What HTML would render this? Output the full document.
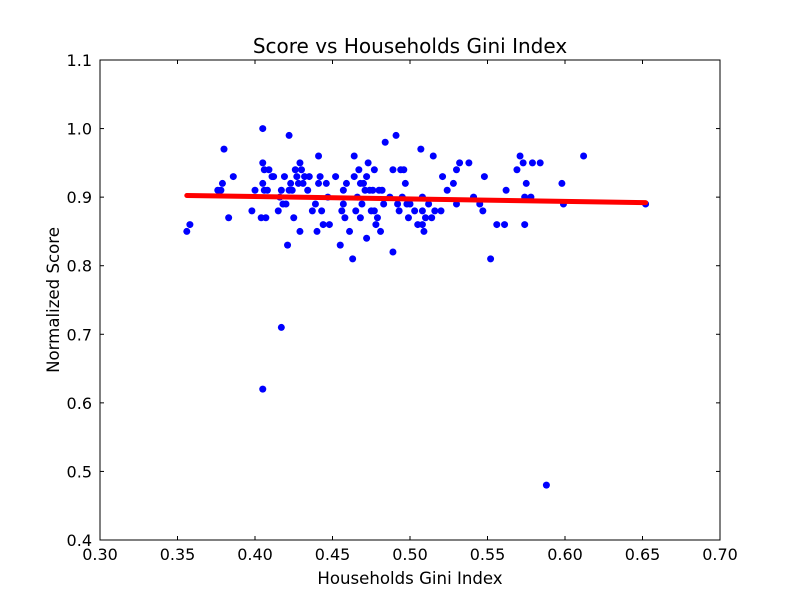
<!DOCTYPE html>
<html><head><meta charset="utf-8"><style>
body{margin:0;background:#fff}
svg text{font-family:"DejaVu Sans","Liberation Sans",sans-serif;fill:#000}
</style></head><body>
<svg id="c" width="800" height="600" xmlns="http://www.w3.org/2000/svg"></svg>
<script>
const gini=[0.356,0.358,0.376,0.378,0.379,0.380,0.383,0.386,0.398,0.400,0.404,0.405,0.405,0.406,0.405,0.406,0.407,0.408,0.409,0.411,0.412,0.415,0.416,0.417,0.418,0.419,0.420,0.421,0.422,0.422,0.423,0.424,0.425,0.426,0.427,0.428,0.429,0.429,0.430,0.431,0.432,0.434,0.435,0.437,0.439,0.440,0.441,0.441,0.442,0.443,0.444,0.446,0.447,0.448,0.452,0.455,0.456,0.457,0.457,0.458,0.459,0.461,0.463,0.464,0.464,0.465,0.466,0.467,0.468,0.468,0.469,0.470,0.471,0.472,0.472,0.473,0.474,0.475,0.476,0.477,0.477,0.478,0.479,0.480,0.481,0.482,0.483,0.484,0.487,0.489,0.489,0.491,0.492,0.493,0.494,0.495,0.496,0.497,0.498,0.499,0.500,0.503,0.505,0.507,0.508,0.508,0.508,0.509,0.510,0.512,0.514,0.515,0.516,0.520,0.521,0.524,0.528,0.530,0.530,0.532,0.538,0.541,0.545,0.547,0.548,0.552,0.556,0.561,0.562,0.569,0.571,0.573,0.574,0.574,0.575,0.578,0.579,0.584,0.588,0.598,0.599,0.612,0.652,0.417,0.405];
const score=[0.85,0.86,0.91,0.91,0.92,0.97,0.87,0.93,0.88,0.91,0.87,1.00,0.95,0.94,0.92,0.91,0.87,0.91,0.94,0.93,0.93,0.88,0.90,0.91,0.89,0.93,0.89,0.83,0.99,0.91,0.92,0.91,0.87,0.94,0.93,0.92,0.95,0.85,0.94,0.92,0.93,0.91,0.93,0.88,0.89,0.85,0.96,0.92,0.93,0.88,0.86,0.92,0.90,0.86,0.93,0.83,0.88,0.91,0.89,0.87,0.92,0.85,0.81,0.96,0.93,0.88,0.90,0.94,0.92,0.87,0.89,0.92,0.91,0.84,0.93,0.95,0.91,0.88,0.91,0.94,0.88,0.86,0.87,0.91,0.85,0.91,0.89,0.98,0.90,0.82,0.94,0.99,0.89,0.88,0.94,0.90,0.94,0.92,0.89,0.87,0.89,0.88,0.86,0.97,0.90,0.88,0.86,0.85,0.87,0.89,0.87,0.96,0.88,0.88,0.93,0.91,0.92,0.94,0.89,0.95,0.95,0.90,0.89,0.88,0.93,0.81,0.86,0.86,0.91,0.94,0.96,0.95,0.86,0.90,0.92,0.90,0.95,0.95,0.48,0.92,0.89,0.96,0.89,0.71,0.62];
const xTicks=["0.30","0.35","0.40","0.45","0.50","0.55","0.60","0.65","0.70"];
const yTicks=["0.4","0.5","0.6","0.7","0.8","0.9","1.0","1.1"];
const NS="http://www.w3.org/2000/svg",svg=document.getElementById('c');
const L=100,R=720,T=60,B=540,x0=0.3,x1=0.7,y0=0.4,y1=1.1;
const X=v=>L+(v-x0)/(x1-x0)*(R-L),Y=v=>B-(v-y0)/(y1-y0)*(B-T);
function mk(t,a,p){const e=document.createElementNS(NS,t);for(const k in a)e.setAttribute(k,a[k]);(p||svg).appendChild(e);return e;}
const pts=mk('g',{});


gini.forEach((g,i)=>{const c=mk('circle',{cx:X(g),cy:Y(score[i]),r:3.5,fill:'#0000ff'},pts);

});
const n=gini.length;let mx=0,my=0;gini.forEach((g,i)=>{mx+=g;my+=score[i];});mx/=n;my/=n;
let sxy=0,sxx=0;gini.forEach((g,i)=>{sxy+=(g-mx)*(score[i]-my);sxx+=(g-mx)*(g-mx);});
const b=sxy/sxx,a=my-b*mx,gmin=Math.min(...gini),gmax=Math.max(...gini);
const ln=mk('line',{x1:X(gmin),y1:Y(a+b*gmin),x2:X(gmax),y2:Y(a+b*gmax),stroke:'#ff0000','stroke-width':5,'stroke-linecap':'round'});


const fr=mk('rect',{x:L,y:T,width:R-L,height:B-T,fill:'none',stroke:'#000','stroke-width':1});


xTicks.forEach(t=>{const x=X(+t);mk('line',{x1:x,y1:B,x2:x,y2:B-4,stroke:'#000'});mk('line',{x1:x,y1:T,x2:x,y2:T+4,stroke:'#000'});
const e=mk('text',{x:x,y:B+20,'text-anchor':'middle','font-size':16});e.textContent=t;

});
yTicks.forEach(t=>{const y=Y(+t);mk('line',{x1:L,y1:y,x2:L+4,y2:y,stroke:'#000'});mk('line',{x1:R,y1:y,x2:R-4,y2:y,stroke:'#000'});
const e=mk('text',{x:L-8,y:y+6,'text-anchor':'end','font-size':16});e.textContent=t;

});
let e=mk('text',{x:410,y:53,'text-anchor':'middle','font-size':20});e.textContent='Score vs Households Gini Index';


e=mk('text',{x:410,y:584,'text-anchor':'middle','font-size':16.6});e.textContent='Households Gini Index';


e=mk('text',{x:59,y:300,'text-anchor':'middle','font-size':16.6,transform:'rotate(-90 59 300)'});e.textContent='Normalized Score';


</script>
</body></html>
